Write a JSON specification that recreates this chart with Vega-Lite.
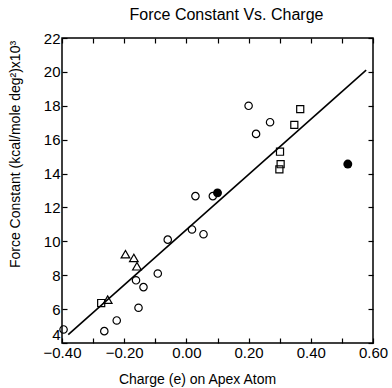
{
  "$schema": "https://vega.github.io/schema/vega-lite/v6.json",
  "width": 311,
  "height": 305,
  "autosize": {"type": "none"},
  "padding": {"left": 62, "top": 38, "right": 19, "bottom": 45},
  "background": "white",
  "config": {
    "font": "Liberation Sans",
    "view": {"stroke": "black", "strokeWidth": 1.5},
    "axis": {"grid": false, "domain": false, "tickColor": "black", "labelColor": "black", "titleColor": "black", "tickWidth": 1.2}
  },
  "title": {"text": "Force Constant Vs. Charge", "fontSize": 16, "fontWeight": "normal", "font": "Liberation Sans", "anchor": "middle", "dx": 9, "offset": 8, "color": "black"},
  "datasets": {
    "pts": [
      {"charge": -0.395, "k": 4.8, "kind": "circle"},
      {"charge": -0.264, "k": 4.7, "kind": "circle"},
      {"charge": -0.224, "k": 5.33, "kind": "circle"},
      {"charge": -0.162, "k": 7.7, "kind": "circle"},
      {"charge": -0.138, "k": 7.3, "kind": "circle"},
      {"charge": -0.154, "k": 6.08, "kind": "circle"},
      {"charge": -0.092, "k": 8.1, "kind": "circle"},
      {"charge": -0.06, "k": 10.1, "kind": "circle"},
      {"charge": 0.018, "k": 10.7, "kind": "circle"},
      {"charge": 0.055, "k": 10.42, "kind": "circle"},
      {"charge": 0.029, "k": 12.67, "kind": "circle"},
      {"charge": 0.085, "k": 12.67, "kind": "circle"},
      {"charge": 0.2, "k": 18.0, "kind": "circle"},
      {"charge": 0.269, "k": 17.03, "kind": "circle"},
      {"charge": 0.224, "k": 16.34, "kind": "circle"},
      {"charge": -0.274, "k": 6.36, "kind": "square"},
      {"charge": 0.366, "k": 17.8, "kind": "square"},
      {"charge": 0.347, "k": 16.87, "kind": "square"},
      {"charge": 0.301, "k": 15.29, "kind": "square"},
      {"charge": 0.299, "k": 14.25, "kind": "square"},
      {"charge": 0.303, "k": 14.55, "kind": "square"},
      {"charge": -0.253, "k": 6.56, "kind": "triangle"},
      {"charge": -0.196, "k": 9.24, "kind": "triangle"},
      {"charge": -0.169, "k": 9.02, "kind": "triangle"},
      {"charge": -0.159, "k": 8.53, "kind": "triangle"},
      {"charge": 0.1, "k": 12.86, "kind": "filled"},
      {"charge": 0.519, "k": 14.56, "kind": "filled"}
    ],
    "fit": [
      {"charge": -0.38, "k": 4.5},
      {"charge": 0.578, "k": 20.1}
    ]
  },
  "resolve": {"axis": {"x": "independent", "y": "independent"}},
  "layer": [
    {
      "data": {"name": "fit"},
      "mark": {"type": "line", "color": "black", "strokeWidth": 1.6},
      "encoding": {
        "x": {"field": "charge", "type": "quantitative", "scale": {"domain": [-0.4, 0.6], "nice": false, "zero": false},
          "axis": {"orient": "bottom", "values": [-0.4, -0.3, -0.2, -0.1, 0, 0.1, 0.2, 0.3, 0.4, 0.5, 0.6],
            "labelExpr": "abs(round(datum.value*10)) % 2 == 0 ? format(datum.value, '.2f') : ''",
            "tickSize": -5, "labelFontSize": 15, "labelPadding": 7, "labelFlush": false,
            "title": "Charge (e) on Apex Atom", "titleFontSize": 14, "titleFontWeight": "normal",
            "titleX": 135, "titleY": 36, "titleBaseline": "middle"}},
        "y": {"field": "k", "type": "quantitative", "scale": {"domain": [4, 22], "nice": false, "zero": false},
          "axis": {"orient": "left", "values": [4, 6, 8, 10, 12, 14, 16, 18, 20, 22], "format": "d",
            "tickSize": -5, "labelFontSize": 15, "labelPadding": 7, "labelFlush": false,
            "labelOffset": {"condition": {"test": "datum.value == 4", "value": -9}, "value": 0},
            "title": "Force Constant (kcal/mole deg²)x10³", "titleFontSize": 14, "titleFontWeight": "normal",
            "titleX": -47, "titleY": 116, "titleBaseline": "middle", "titleAlign": "center", "titleAngle": -90}}
      }
    },
    {
      "data": {"name": "pts"},
      "transform": [{"filter": "datum.kind == 'circle'"}],
      "mark": {"type": "point", "shape": "circle", "filled": false, "stroke": "black", "strokeWidth": 1.2, "size": 55, "opacity": 1},
      "encoding": {
        "x": {"field": "charge", "type": "quantitative", "axis": {"orient": "top", "values": [-0.4, -0.3, -0.2, -0.1, 0, 0.1, 0.2, 0.3, 0.4, 0.5, 0.6], "labels": false, "tickSize": -5, "title": null}},
        "y": {"field": "k", "type": "quantitative", "axis": {"orient": "right", "values": [4, 6, 8, 10, 12, 14, 16, 18, 20, 22], "labels": false, "tickSize": -5, "title": null}}
      }
    },
    {
      "data": {"name": "pts"},
      "transform": [{"filter": "datum.kind == 'square'"}],
      "mark": {"type": "point", "shape": "square", "filled": false, "stroke": "black", "strokeWidth": 1.2, "size": 50, "opacity": 1},
      "encoding": {
        "x": {"field": "charge", "type": "quantitative", "axis": null},
        "y": {"field": "k", "type": "quantitative", "axis": null}
      }
    },
    {
      "data": {"name": "pts"},
      "transform": [{"filter": "datum.kind == 'triangle'"}],
      "mark": {"type": "point", "shape": "triangle-up", "filled": false, "stroke": "black", "strokeWidth": 1.2, "size": 75, "opacity": 1},
      "encoding": {
        "x": {"field": "charge", "type": "quantitative", "axis": null},
        "y": {"field": "k", "type": "quantitative", "axis": null}
      }
    },
    {
      "data": {"name": "pts"},
      "transform": [{"filter": "datum.kind == 'filled'"}],
      "mark": {"type": "point", "shape": "circle", "filled": true, "fill": "black", "size": 80, "opacity": 1},
      "encoding": {
        "x": {"field": "charge", "type": "quantitative", "axis": null},
        "y": {"field": "k", "type": "quantitative", "axis": null}
      }
    }
  ]
}
